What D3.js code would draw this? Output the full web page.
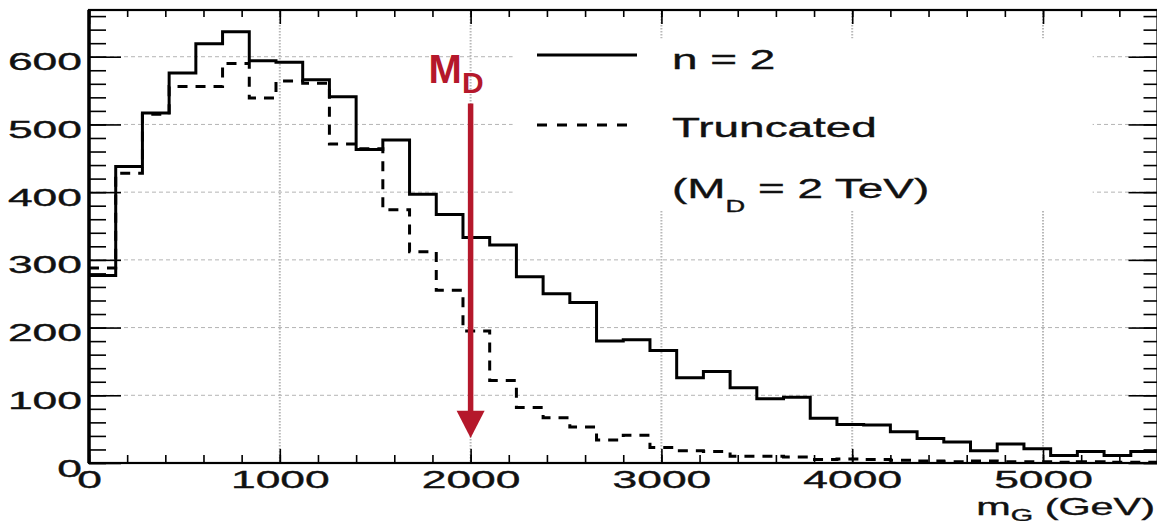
<!DOCTYPE html>
<meta charset="utf-8">
<style>
body { margin: 0; background: #fff; }
text { font-family: "Liberation Sans", Arial, sans-serif; fill: #111; }
.lbl { stroke: #111; stroke-width: 0.35; }
.grid-h { stroke: #b4b4b4; stroke-width: 1; stroke-dasharray: 4,3; }
.grid-v { stroke: #b8b8b8; stroke-width: 2; stroke-dasharray: 1.5,1.5; }
.hist { fill: none; stroke: #000; stroke-width: 3; }
.trunc { stroke-dasharray: 10,8; }
.tick line { stroke: #000; stroke-width: 1.6; }
</style>
<body>
<script src="https://d3js.org/d3.v7.min.js"></script>
<script>

// histogram contents, 40 bins of 140 GeV
var binWidth = 140;
var nTwo = [277, 438, 517, 576, 619, 637, 594, 592, 566, 541,
            463, 477, 397, 367, 333, 322, 275, 250, 237, 180,
            182, 166, 126, 135, 111, 95, 97, 66, 57, 56,
            46, 36, 31, 18, 28, 21, 11, 17, 11, 17];
var truncated = [288, 428, 515, 556, 556, 590, 539, 564, 561, 471,
                 464, 374, 312, 255, 195, 122, 82, 67, 53, 34,
                 41, 23, 18, 17, 10, 10, 9, 5, 6, 5,
                 4, 3, 2, 3, 2, 2, 1, 2, 1, 1];
var xTicks = [0, 1000, 2000, 3000, 4000, 5000];
var yTicks = [0, 100, 200, 300, 400, 500, 600];
var mD = 2000;           // arrow position
var arrowSpan = [531, 77, 37];   // line top, head base, tip (y units)

var W = 1157, H = 521;
var stretch = 1.85;      // the original picture is stretched sideways

var x = d3.scaleLinear().domain([0, 5600]).range([89, 1157.5]);
var y = d3.scaleLinear().domain([0, 669]).range([463, 10]);

var svg = d3.select("body").append("svg")
    .attr("width", W)
    .attr("height", H);

svg.append("clipPath").attr("id", "frame")
  .append("rect")
    .attr("x", x(0)).attr("y", y(669))
    .attr("width", x(5600) - x(0)).attr("height", y(0) - y(669));

// grid
svg.selectAll(".grid-h")
    .data(yTicks.slice(1))
  .enter().append("line")
    .attr("class", "grid-h")
    .attr("x1", x(0)).attr("x2", x(5600))
    .attr("y1", function(d) { return y(d); })
    .attr("y2", function(d) { return y(d); });

svg.selectAll(".grid-v")
    .data(xTicks.slice(1))
  .enter().append("line")
    .attr("class", "grid-v")
    .attr("x1", function(d) { return x(d); })
    .attr("x2", function(d) { return x(d); })
    .attr("y1", y(669)).attr("y2", y(0));

// legend box hides the grid
svg.append("rect")
    .attr("x", x(2220)).attr("y", y(627))
    .attr("width", x(5260) - x(2220))
    .attr("height", y(373) - y(627))
    .attr("fill", "#fff");

// histograms
function steps(vals) {
  var pts = vals.map(function(v, i) { return [i * binWidth, v]; });
  pts.push([vals.length * binWidth, vals[vals.length - 1]]);
  return pts;
}
var line = d3.line()
    .x(function(d) { return x(d[0]); })
    .y(function(d) { return y(d[1]); })
    .curve(d3.curveStepAfter);

var plot = svg.append("g").attr("clip-path", "url(#frame)");
plot.append("path")
    .datum(steps(truncated))
    .attr("class", "hist trunc")
    .attr("d", line);
plot.append("path")
    .datum(steps(nTwo))
    .attr("class", "hist")
    .attr("d", line);

// axes
function noDomain(g) { g.select(".domain").remove(); }

svg.append("g").attr("transform", "translate(0," + y(0) + ")")
    .call(d3.axisBottom(x).tickValues(d3.range(0, 5600, 200)).tickSize(-8).tickFormat(""))
    .call(noDomain);
var xb = svg.append("g").attr("transform", "translate(0," + y(0) + ")")
    .call(d3.axisBottom(x).tickValues(xTicks).tickSize(-14).tickFormat(d3.format("d")))
    .call(noDomain);
xb.selectAll("text")
    .attr("class", "lbl")
    .attr("y", 0).attr("dy", null)
    .attr("transform", "translate(0,25) scale(" + stretch + ",1)")
    .style("font-size", "24px").attr("fill", "#111");

svg.append("g").attr("transform", "translate(0," + y(669) + ")")
    .call(d3.axisTop(x).tickValues(d3.range(0, 5600, 200)).tickSize(-7).tickFormat(""))
    .call(noDomain);
svg.append("g").attr("transform", "translate(0," + y(669) + ")")
    .call(d3.axisTop(x).tickValues(xTicks).tickSize(-14).tickFormat(""))
    .call(noDomain);

svg.append("g").attr("transform", "translate(" + x(0) + ",0)")
    .call(d3.axisLeft(y).tickValues(d3.range(0, 669, 20)).tickSize(-17).tickFormat(""))
    .call(noDomain);
var yl = svg.append("g").attr("transform", "translate(" + x(0) + ",0)")
    .call(d3.axisLeft(y).tickValues(yTicks).tickSize(-32).tickFormat(d3.format("d")))
    .call(noDomain);
yl.selectAll("text")
    .attr("class", "lbl")
    .attr("x", 0).attr("dy", null)
    .attr("transform", "translate(-7,13) scale(" + stretch + ",1)")
    .style("font-size", "24px").attr("fill", "#111");

svg.append("g").attr("transform", "translate(" + x(5600) + ",0)")
    .call(d3.axisRight(y).tickValues(d3.range(0, 669, 20)).tickSize(-14).tickFormat(""))
    .call(noDomain);
svg.append("g").attr("transform", "translate(" + x(5600) + ",0)")
    .call(d3.axisRight(y).tickValues(yTicks).tickSize(-29).tickFormat(""))
    .call(noDomain);

// frame
svg.append("rect")
    .attr("x", x(0)).attr("y", y(669))
    .attr("width", x(5600) - x(0)).attr("height", y(0) - y(669))
    .attr("fill", "none").attr("stroke", "#000").attr("stroke-width", 2.2);
svg.append("line")
    .attr("x1", x(0)).attr("x2", x(0))
    .attr("y1", y(669)).attr("y2", y(0))
    .attr("stroke", "#000").attr("stroke-width", 3.5);

// axis title
var tt = svg.append("text")
    .attr("class", "lbl")
    .attr("text-anchor", "end")
    .attr("transform", "translate(1155,515) scale(1.8,1)")
    .style("font-size", "23px");
tt.append("tspan").text("m");
tt.append("tspan").attr("dy", 6).style("font-size", "16px").text("G");
tt.append("tspan").attr("dy", -6).text(" (GeV)");

// M_D arrow
var red = "#b5182b";
var ax = x(mD);
svg.append("line")
    .attr("x1", ax).attr("x2", ax)
    .attr("y1", y(arrowSpan[0])).attr("y2", y(arrowSpan[1]) + 1)
    .attr("stroke", red).attr("stroke-width", 5.5);
svg.append("path")
    .attr("d", "M" + (ax - 14) + "," + y(arrowSpan[1]) +
               "L" + (ax + 14) + "," + y(arrowSpan[1]) +
               "L" + ax + "," + y(arrowSpan[2]) + "Z")
    .attr("fill", red);
var md = svg.append("text")
    .attr("x", ax - 42).attr("y", y(arrowSpan[0]) - 20)
    .style("font-weight", "bold").style("font-size", "40px")
    .attr("fill", red).style("fill", red);
md.append("tspan").text("M");
md.append("tspan").attr("dy", 10).style("font-size", "30px").text("D");

// legend
var legend = svg.append("g");
legend.append("line")
    .attr("x1", 537).attr("x2", 637).attr("y1", 55).attr("y2", 55)
    .attr("stroke", "#000").attr("stroke-width", 3);
legend.append("line")
    .attr("x1", 537).attr("x2", 637).attr("y1", 125).attr("y2", 125)
    .attr("stroke", "#000").attr("stroke-width", 3)
    .attr("stroke-dasharray", "10,10");

legend.append("text")
    .attr("class", "lbl")
    .attr("transform", "translate(672,69) scale(1.7,1)")
    .style("font-size", "27px")
    .text("n = 2");
legend.append("text")
    .attr("class", "lbl")
    .attr("transform", "translate(672,137) scale(1.7,1)")
    .style("font-size", "27px")
    .text("Truncated");
var l3 = legend.append("text")
    .attr("class", "lbl")
    .attr("transform", "translate(672,198) scale(1.7,1)")
    .style("font-size", "27px");
l3.append("tspan").text("(M");
l3.append("tspan").attr("dy", 14).style("font-size", "16px").text("D");
l3.append("tspan").attr("dy", -14).text(" = 2 TeV)");

</script>
</body>
